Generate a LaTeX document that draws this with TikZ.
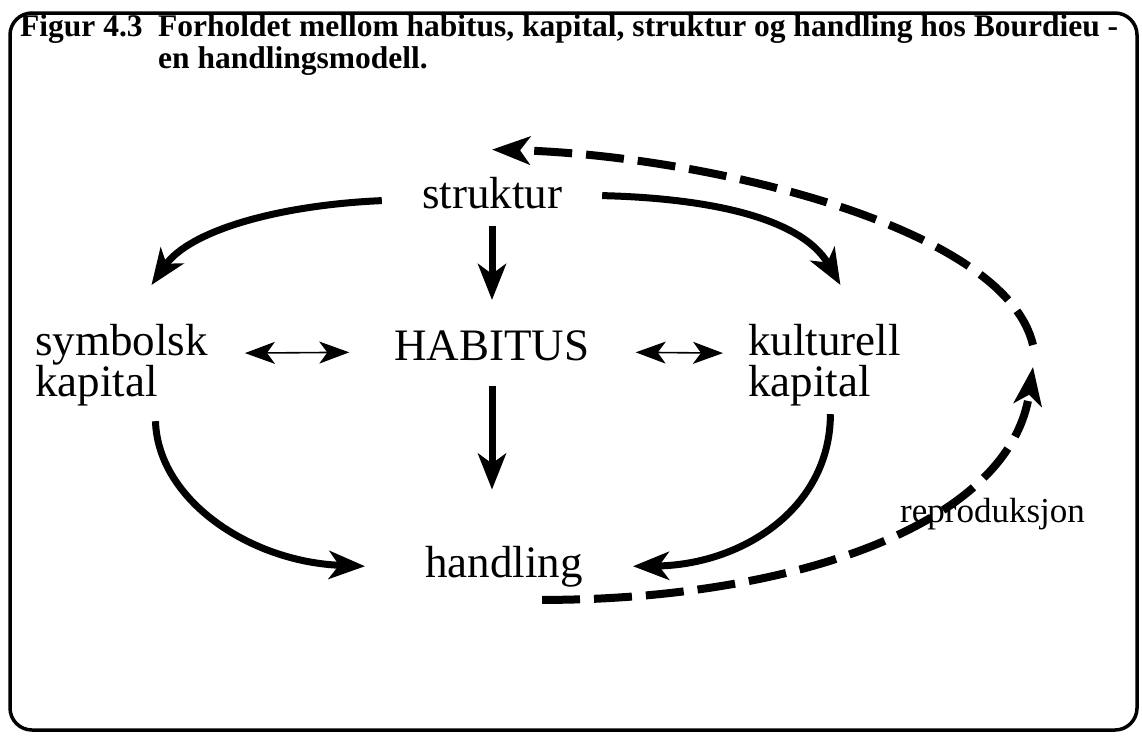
\documentclass[tikz,border=0pt]{standalone}
\usepackage{fontspec}
\setmainfont{Liberation Serif}
\usetikzlibrary{arrows.meta}

\begin{document}
\begin{tikzpicture}[x=1pt,y=-1pt,
  lbl/.style={inner sep=0pt,font=\fontsize{45}{41}\selectfont},
  fat/.style={line width=7pt,-{Stealth[length=36pt,width=28pt,inset=10pt]}},
  twoway/.style={line width=1.6pt,{Stealth[length=30pt,width=22pt,inset=8pt]}-{Stealth[length=30pt,width=22pt,inset=8pt]}},
  dashline/.style={line width=8pt,dash pattern=on 38pt off 14pt,-{Stealth[length=38pt,width=28pt,inset=10pt]}},
  ttl/.style={inner sep=0pt,anchor=base west,font=\fontsize{31.5}{32}\selectfont\bfseries}]
  \useasboundingbox (0,0) rectangle (1142,736);
  \draw[line width=3.5pt,rounded corners=22pt] (10,13) rectangle (1137,730);

  \node[ttl] (fignr) at (20,36) {Figur 4.3};
  \node[ttl,align=left] (title) at (158,68) {Forholdet mellom habitus, kapital, struktur og handling hos Bourdieu -\\en handlingsmodell.};

  \node[lbl,anchor=base,inner xsep=40pt] (struktur) at (492,208) {struktur};
  \node[lbl,anchor=base] (habitus) at (492,360) {HABITUS};
  \node[lbl,anchor=north west,align=left] (symbolsk) at (35,324) {symbolsk\\kapital};
  \node[lbl,anchor=north west,align=left] (kulturell) at (748,324) {kulturell\\kapital};
  \node[lbl,anchor=base] (handling) at (504,577) {handling};
  \node[inner sep=0pt,anchor=base west,font=\fontsize{35}{40}\selectfont] (repro) at (900,522) {reproduksjon};
  \coordinate (turn) at (1033,356);

  \draw[fat] ([yshift=-8pt]struktur.west) .. controls (280,205) and (190,230) .. ([xshift=30pt,yshift=39pt]symbolsk.north);
  \draw[fat] ([yshift=-3pt]struktur.east) .. controls (700,198) and (800,215) .. ([xshift=16pt,yshift=39pt]kulturell.north);
  \draw[fat,shorten <=17pt,shorten >=30pt] (struktur.south) -- (struktur.south |- habitus.north);
  \draw[fat,shorten <=25pt,shorten >=56pt] (habitus.south) -- (habitus.south |- handling.north);
  \draw[twoway] ([xshift=37pt,yshift=12pt]symbolsk.east) -- ([xshift=-45pt,yshift=-7pt]habitus.west);
  \draw[twoway] ([xshift=46pt,yshift=-7pt]habitus.east) -- ([xshift=-25pt,yshift=12pt]kulturell.west);
  \draw[fat] ([xshift=34pt,yshift=-15pt]symbolsk.south) .. controls (158,500) and (250,562) .. ([xshift=-60pt]handling.west);
  \draw[fat] ([xshift=6pt,yshift=-8pt]kulturell.south) .. controls (830,510) and (740,565) .. ([xshift=50pt]handling.east);

  \draw[dashline] ([xshift=38pt,yshift=-13pt]handling.south) .. controls (780,600) and (1010,530) .. ([yshift=-11pt]turn);
  \draw[dashline] ([yshift=11pt]turn) .. controls (1005,225) and (700,155) .. ([yshift=27pt]struktur.north);
\end{tikzpicture}
\end{document}
